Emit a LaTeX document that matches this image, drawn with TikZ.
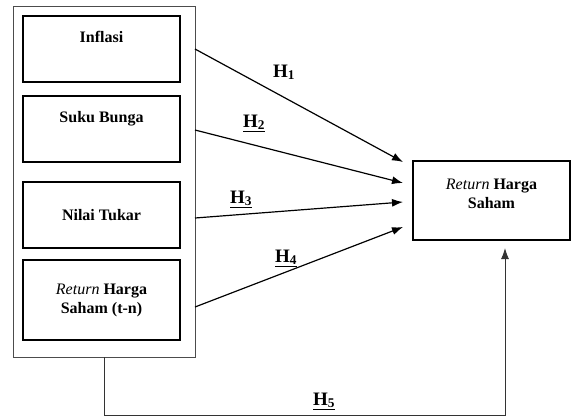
\documentclass[tikz,border=0pt]{standalone}
\usepackage{fontspec}
\setmainfont{Liberation Serif}
\usetikzlibrary{arrows.meta}

\begin{document}
\begin{tikzpicture}[x=1pt,y=-1pt]
\tikzstyle{every node}+=[font=\fontsize{16}{19}\selectfont\bfseries]
\tikzstyle{var}=[draw, line width=1.2pt, minimum width=157pt, align=center, inner sep=0pt]
\tikzstyle{hyp}=[anchor=base west, inner sep=0pt, font=\fontsize{19}{22}\selectfont\bfseries]
\tikzstyle{arr}=[line width=1.2pt, -{Latex[length=11pt,width=8pt]}]
\useasboundingbox (0,0) rectangle (573,416);
% independent variables
\node [draw, line width=0.9pt, black!70, minimum width=182pt, minimum height=351pt] (grp) at (104,181.5) {};
\node [var, minimum height=66pt] (infl) at (101.5,49) {Inflasi\\[6pt]\mbox{}};
\node [var, minimum height=66pt] (bunga) at (101.5,129) {Suku Bunga\\[6pt]\mbox{}};
\node [var, minimum height=66pt] (tukar) at (101.5,215) {Nilai Tukar};
\node [var, minimum height=80pt] (lag) at (101.5,300) {{\mdseries\itshape Return} Harga\\Saham (t-n)};
% dependent variable
\node [var, minimum height=79pt] (ret) at (491.5,200.5) {{\mdseries\itshape Return} Harga\\Saham\\[-6pt]\mbox{}};
\coordinate (s1) at (195,49);
\coordinate (s2) at (195,130);
\coordinate (s3) at (195,218);
\coordinate (s4) at (195,307);
\coordinate (e1) at (403,162);
\coordinate (e2) at (403,183);
\coordinate (e3) at (403,202);
\coordinate (e4) at (403,227);
\coordinate (b5) at (505,415);
\coordinate (e5) at (505,248);
\draw [arr] (s1) -- (e1);
\draw [arr] (s2) -- (e2);
\draw [arr] (s3) -- (e3);
\draw [arr] (s4) -- (e4);
\draw [arr, line width=0.9pt, black!80] (grp.south) |- (b5) -- (e5);
% hypotheses
\node [hyp] (h1) at (273,77) {H\textsubscript{1}};
\node [hyp] (h2) at (243,127) {\underline{H\textsubscript{2}}};
\node [hyp] (h3) at (230,203) {\underline{H\textsubscript{3}}};
\node [hyp] (h4) at (275,262) {\underline{H\textsubscript{4}}};
\node [hyp] (h5) at (313,405) {\underline{H\textsubscript{5}}};
\end{tikzpicture}
\end{document}
